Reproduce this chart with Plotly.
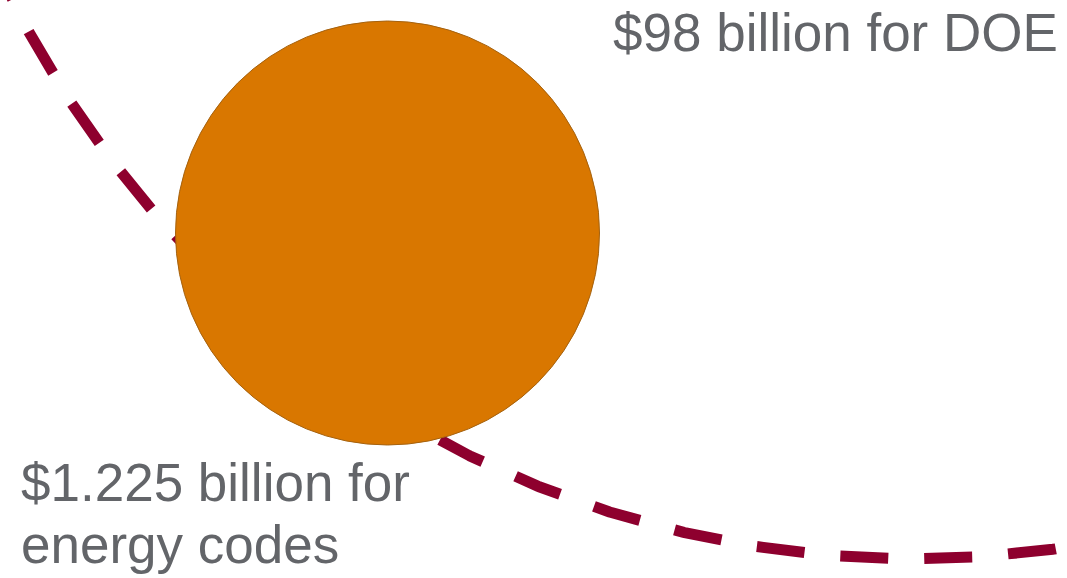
import numpy as np
import plotly.graph_objects as go

# ---- data ----
amount_labels = ["$98 billion for DOE", "$1.225 billion for", "energy codes"]
amounts_billion = [98, 1.225]

W, H = 1067, 578

# ---- layout geometry (pixel units, y downwards) ----
big_cx, big_cy, big_r = 913.5, -447.0, 1006.0
small_cx, small_cy, small_r = 387.5, 233.0, 212.0

dash_len, gap_len = 48, 36
period = dash_len + gap_len
# anchor dash phase so a dash starts at x=840 on the bottom of the arc
anchor_dx = 840 - big_cx
anchor_theta = np.arctan2(np.sqrt(big_r**2 - anchor_dx**2), anchor_dx)
start_theta = anchor_theta + 14 * period / big_r
end_theta = np.deg2rad(70)
theta = np.linspace(start_theta, end_theta, 1500)
arc_x = big_cx + big_r * np.cos(theta)
arc_y = big_cy + big_r * np.sin(theta)

fig = go.Figure()
fig.add_trace(go.Scatter(
    x=arc_x, y=arc_y, mode="lines",
    line=dict(color="#8E002E", width=11, dash=f"{dash_len}px,{gap_len}px"),
    hoverinfo="skip", showlegend=False,
    name=amount_labels[0],
))

fig.add_shape(type="circle", xref="x", yref="y",
              x0=small_cx - small_r, x1=small_cx + small_r,
              y0=small_cy - small_r, y1=small_cy + small_r,
              fillcolor="#D97700", line=dict(color="#A5620F", width=1),
              layer="above")

font = dict(family="Liberation Sans, Arial, sans-serif", size=53, color="#636569")
fig.add_annotation(x=1060, y=32.5, xref="x", yref="y", text=amount_labels[0],
                   showarrow=False, xanchor="right", yanchor="middle", font=font)
fig.add_annotation(x=19, y=482.5, xref="x", yref="y", text=amount_labels[1],
                   showarrow=False, xanchor="left", yanchor="middle", font=font)
fig.add_annotation(x=19, y=544.5, xref="x", yref="y", text=amount_labels[2],
                   showarrow=False, xanchor="left", yanchor="middle", font=font)

fig.update_layout(
    width=W, height=H,
    margin=dict(l=0, r=0, t=0, b=0),
    paper_bgcolor="white", plot_bgcolor="white",
    xaxis=dict(range=[0, W], visible=False, fixedrange=True),
    yaxis=dict(range=[H, 0], visible=False, fixedrange=True),
    showlegend=False,
)

fig.write_html("out.html", config={"displayModeBar": False})
